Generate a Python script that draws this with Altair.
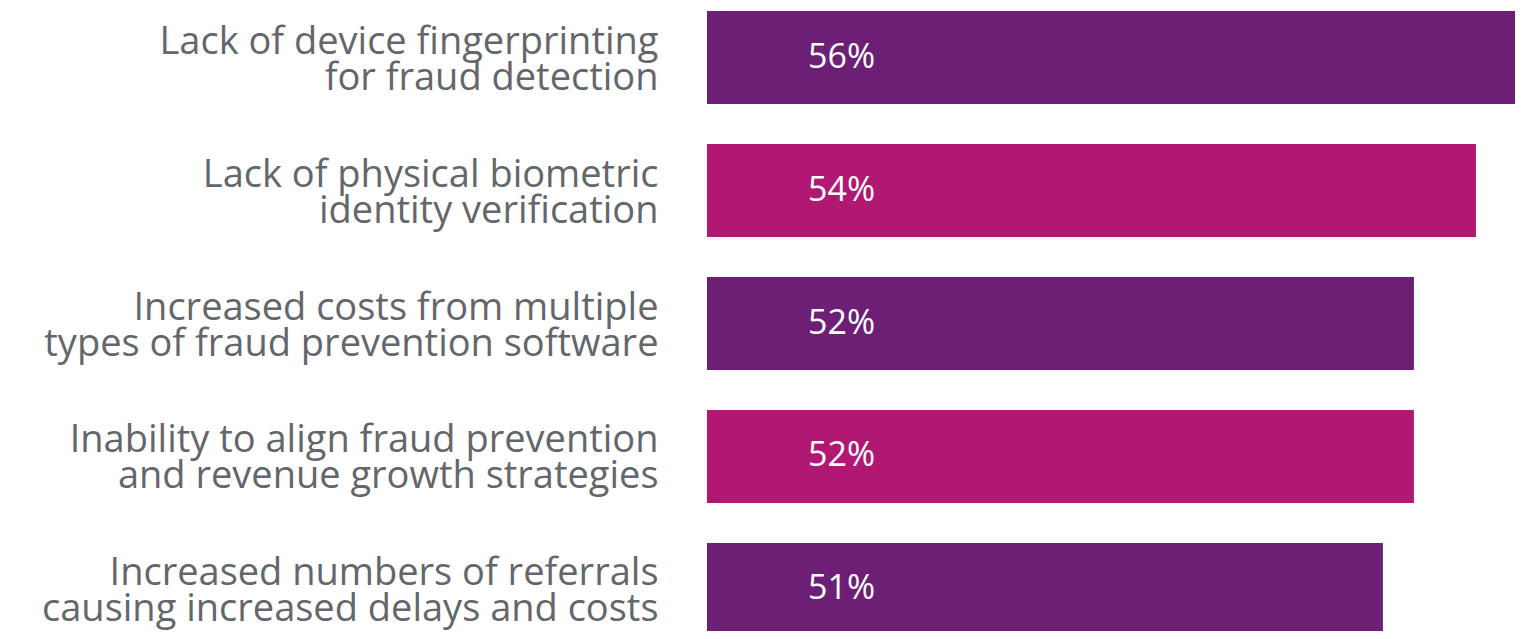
import altair as alt
import pandas as pd

categories = [
    "Lack of device fingerprinting|for fraud detection",
    "Lack of physical biometric\u00a0|identity verification",
    "Increased costs from multiple\u00a0|types of fraud prevention software",
    "Inability to align fraud prevention\u00a0|and revenue growth strategies",
    "Increased numbers of referrals\u00a0|causing increased delays and costs",
]
values = [56, 54, 52, 52, 51]
value_labels = ["56%", "54%", "52%", "52%", "51%"]
groups = ["a", "b", "a", "b", "a"]

PURPLE = "#6C1F75"
MAGENTA = "#B01873"
GRAY = "#63666A"
X_MIN, X_MAX = 29.2, 55.26

df = pd.DataFrame({"cat": categories, "value": values, "label": value_labels, "group": groups})

y_axis = alt.Axis(
    title=None,
    ticks=False,
    domain=False,
    grid=False,
    labelExpr="split(datum.label, '|')",
    labelFont="Open Sans",
    labelFontSize=38,
    labelLineHeight=36,
    labelColor=GRAY,
    labelPadding=49,
    labelLimit=800,
    labelAlign="right",
    labelBaseline="middle",
    labelOffset=-15,
)

y_scale = alt.Scale(paddingInner=0.3, paddingOuter=0, range=[3, 628])
x_scale = alt.Scale(domain=[X_MIN, X_MAX], zero=False, nice=False, clamp=True)

bars = alt.Chart(df).mark_bar().encode(
    y=alt.Y("cat:N", sort=categories, scale=y_scale, axis=y_axis),
    x=alt.X("value:Q", scale=x_scale, axis=None),
    x2=alt.datum(X_MIN),
    color=alt.Color("group:N", scale=alt.Scale(domain=["a", "b"], range=[PURPLE, MAGENTA]), legend=None),
)

texts = alt.Chart(df).mark_text(
    align="left", baseline="middle", dx=101, color="white", font="Open Sans", fontSize=34
).encode(
    y=alt.Y("cat:N", sort=categories, scale=y_scale, axis=y_axis),
    x=alt.XDatum(X_MIN, axis=None),
    text="label:N",
)

chart = (
    alt.layer(bars, texts)
    .properties(
        width=808,
        height=623,
        padding={"left": 699, "top": 0, "right": 0, "bottom": 0},
        autosize=alt.AutoSizeParams(type="none"),
    )
    .configure_view(stroke="white", strokeWidth=0, strokeOpacity=0)
    .configure_axis(domain=False, grid=False, ticks=False)
    .configure(background="white", style={"cell": {"stroke": "white", "strokeWidth": 0}})
)

chart.save("out.html", embed_options={"renderer": "svg", "actions": False})
